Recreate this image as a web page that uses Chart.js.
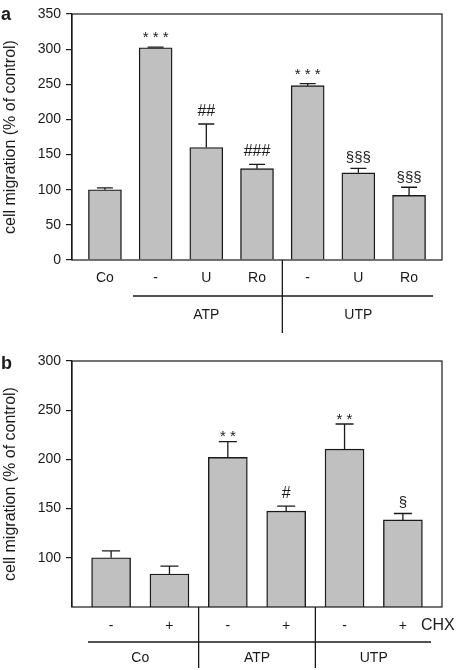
<!DOCTYPE html>
<html>
<head>
<meta charset="utf-8">
<script src="https://cdn.jsdelivr.net/npm/chart.js@4.4.1/dist/chart.umd.min.js"></script>
<style>
  html, body { margin: 0; padding: 0; background: #fff; }
  .wrap { position: absolute; left: 0; width: 456px; height: 335px; }
  #wa { top: 0; }
  #wb { top: 335px; }
</style>
</head>
<body>
<div class="wrap" id="wa"><canvas id="chartA" width="456" height="335"></canvas></div>
<div class="wrap" id="wb"><canvas id="chartB" width="456" height="335"></canvas></div>
<script>
const FONT = "'Liberation Sans', Arial, sans-serif";
const BAR_FILL = "#c0c0c0";
const INK = "#1a1a1a";

// panel a
const labelsA = ["Co", "-", "U", "Ro", "-", "U", "Ro"];
const valuesA = [100, 302, 160, 130, 248, 124, 92];
const errTopA = [102.5, 303, 193.5, 136, 251, 130.5, 103.5];
const marksA = ["", "***", "##", "###", "***", "§§§", "§§§"];
const groupsA = [{ name: "ATP", from: 1, to: 3 }, { name: "UTP", from: 4, to: 6 }];
const yTicksA = [0, 50, 100, 150, 200, 250, 300, 350];

// panel b
const labelsB = ["-", "+", "-", "+", "-", "+"];
const valuesB = [100, 83.5, 202, 147.5, 210.5, 138.5];
const errTopB = [107, 91.5, 218, 152.5, 236, 145];
const marksB = ["", "", "**", "#", "**", "§"];
const groupsB = [{ name: "Co", from: 0, to: 1 }, { name: "ATP", from: 2, to: 3 }, { name: "UTP", from: 4, to: 5 }];
const yTicksB = [100, 150, 200, 250, 300];

// glyph size and visual centre (fraction of em above baseline) per mark kind
const MARK_STYLE = {
  "*": { size: 15, rise: 0.57 },
  "#": { size: 16, rise: 0.36 },
  "§": { size: 15, rise: 0.26 },
};

// error bars, significance marks, group brackets
const decorPlugin = {
  id: "decor",
  afterDatasetsDraw(chart, args, o) {
    const ctx = chart.ctx;
    const x = chart.scales.x, y = chart.scales.y;
    const area = chart.chartArea;
    ctx.save();
    ctx.strokeStyle = INK;
    ctx.fillStyle = INK;
    ctx.lineWidth = 1.3;
    const half = o.capHalf;
    o.values.forEach((v, i) => {
      const cx = x.getPixelForValue(i);
      const yt = y.getPixelForValue(o.errTop[i]);
      const yv = y.getPixelForValue(v);
      ctx.beginPath();
      ctx.moveTo(cx, yv); ctx.lineTo(cx, yt);
      ctx.moveTo(cx - half, yt); ctx.lineTo(cx + half, yt);
      ctx.stroke();
      const m = o.marks[i];
      if (m) {
        const st = MARK_STYLE[m[0]];
        ctx.font = st.size + "px " + FONT;
        ctx.textAlign = "center";
        ctx.textBaseline = "alphabetic";
        const cy = yt - o.gaps[i];
        const txt = m[0] === "*" ? m.split("").join(" ") : m;
        ctx.fillText(txt, cx, cy + st.rise * st.size);
      }
    });

    // frame
    ctx.lineWidth = 1.2;
    ctx.strokeRect(area.left, area.top, area.right - area.left, area.bottom - area.top);

    // group line + dividers + group names
    ctx.lineWidth = 1.3;
    ctx.beginPath();
    ctx.moveTo(o.lineFrom, o.lineY); ctx.lineTo(o.lineTo, o.lineY);
    o.dividers.forEach(d => {
      const dx = (x.getPixelForValue(d) + x.getPixelForValue(d + 1)) / 2;
      ctx.moveTo(dx, area.bottom); ctx.lineTo(dx, o.divBottom);
    });
    ctx.stroke();
    ctx.font = "14px " + FONT;
    ctx.textAlign = "center";
    ctx.textBaseline = "middle";
    o.groups.forEach(g => {
      const gx = (x.getPixelForValue(g.from) + x.getPixelForValue(g.to)) / 2;
      ctx.fillText(g.name, gx, o.groupY);
    });
    if (o.extra) {
      ctx.textAlign = "left";
      ctx.font = "16px " + FONT;
      ctx.fillText(o.extra.text, o.extra.x, o.extra.y);
    }
    // panel letter
    ctx.font = "bold 18px " + FONT;
    ctx.textAlign = "left";
    ctx.textBaseline = "middle";
    ctx.fillText(o.letter, 1, o.letterY);
    ctx.restore();
  }
};

function makeChart(id, p) {
  return new Chart(document.getElementById(id), {
    type: "bar",
    data: {
      datasets: [{
        data: p.values.map((v, i) => ({ x: i, y: v })),
        backgroundColor: BAR_FILL,
        borderColor: INK,
        borderWidth: 1.4,
        borderSkipped: "bottom",
        barThickness: p.barWidth,
      }],
    },
    options: {
      responsive: false,
      animation: false,
      layout: { padding: { left: 0, right: 14, top: p.top, bottom: 0 } },
      plugins: { legend: { display: false }, tooltip: { enabled: false }, decor: p.decor },
      scales: {
        x: {
          type: "linear",
          offset: false,
          min: -p.margin,
          max: p.values.length - 1 + p.margin,
          afterBuildTicks: s => { s.ticks = p.labels.map((_, i) => ({ value: i })); },
          afterFit: s => { s.height = p.xHeight; },
          grid: { display: false, drawTicks: false },
          border: { display: false },
          ticks: {
            autoSkip: false,
            maxRotation: 0,
            padding: p.xPad,
            color: INK,
            font: { family: FONT, size: 14 },
            callback: v => p.labels[v],
          },
        },
        y: {
          min: p.yMin,
          max: p.yMax,
          afterBuildTicks: s => { s.ticks = p.yTicks.map(v => ({ value: v })); },
          afterFit: s => { s.width = 72; },
          grid: { display: true, drawOnChartArea: false, drawTicks: true, tickLength: 6, color: INK, lineWidth: 1.2 },
          border: { display: true, color: INK, width: 1.2 },
          ticks: { padding: 5, color: INK, font: { family: FONT, size: 14 } },
          title: {
            display: true,
            text: "cell migration (% of control)",
            color: INK,
            font: { family: FONT, size: 16 },
            padding: { top: 1, bottom: 0 },
          },
        },
      },
    },
    plugins: [decorPlugin],
  });
}

makeChart("chartA", {
  labels: labelsA, values: valuesA, yTicks: yTicksA, yMin: 0, yMax: 350,
  top: 14, xHeight: 75, margin: 0.65, barWidth: 33, xPad: 10,
  decor: {
    values: valuesA, errTop: errTopA, marks: marksA, gaps: [0, 14, 14, 14, 13, 10, 9],
    groups: groupsA, capHalf: 8,
    dividers: [3], lineY: 296, lineFrom: 133, lineTo: 433, divBottom: 333, groupY: 315,
    letter: "a", letterY: 15,
  },
});

makeChart("chartB", {
  labels: labelsB, values: valuesB, yTicks: yTicksB, yMin: 50, yMax: 300,
  top: 26, xHeight: 63, margin: 0.67, barWidth: 39, xPad: 11,
  decor: {
    values: valuesB, errTop: errTopB, marks: marksB, gaps: [0, 0, 9, 13.5, 9, 10],
    groups: groupsB, capHalf: 9,
    dividers: [1, 3], lineY: 307, lineFrom: 88, lineTo: 431, divBottom: 333, groupY: 323,
    extra: { text: "CHX", x: 421, y: 291 },
    letter: "b", letterY: 29,
  },
});
</script>
</body>
</html>
